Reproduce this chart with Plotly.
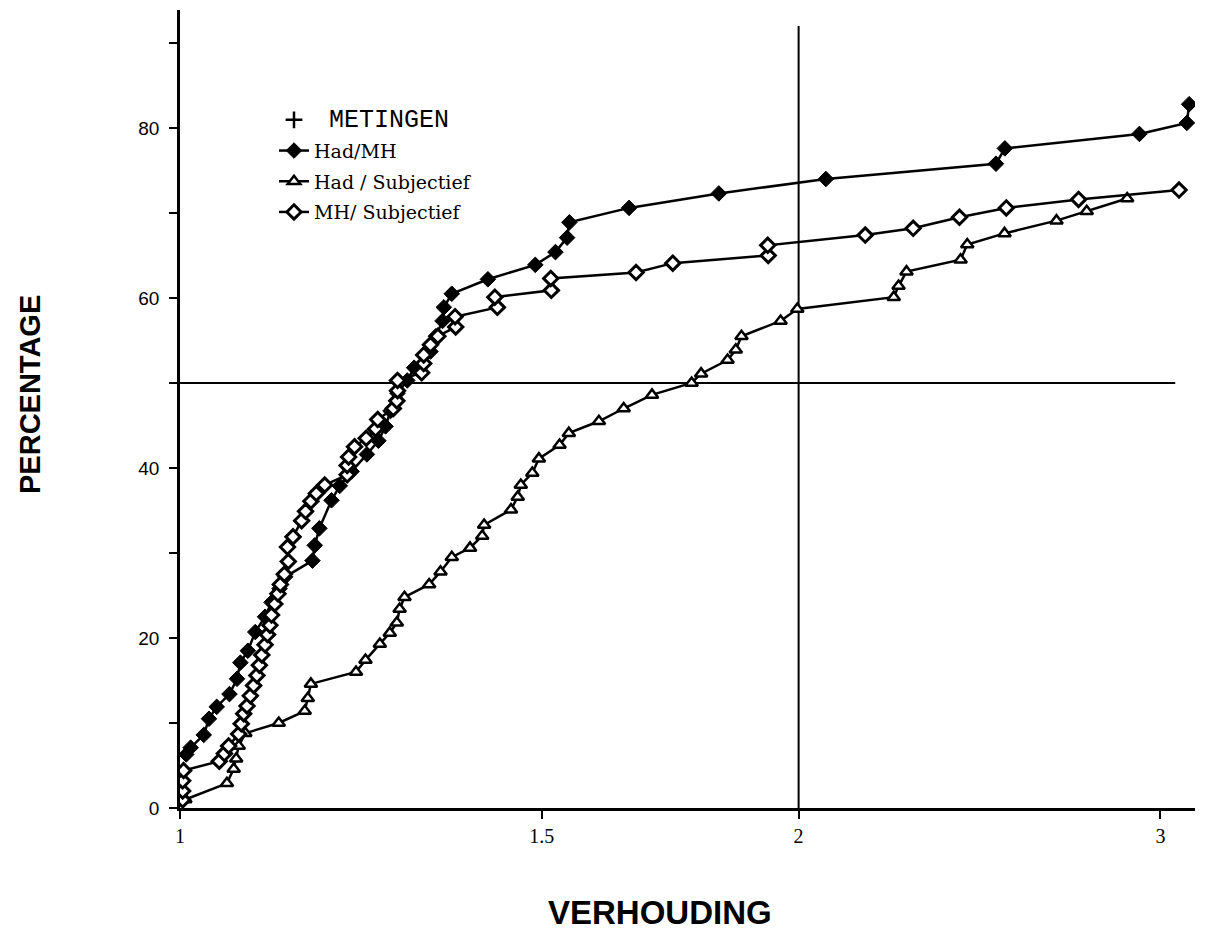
import plotly.graph_objects as go

# ---- data ----
had_mh_x = [1.007, 1.012, 1.027, 1.033, 1.042, 1.057, 1.066, 1.070, 1.079, 1.088, 1.100,
            1.108, 1.118, 1.125, 1.160, 1.163, 1.169, 1.185, 1.196, 1.212, 1.233, 1.249,
            1.259, 1.266, 1.276, 1.290, 1.300, 1.324, 1.332, 1.342, 1.344, 1.356, 1.412,
            1.489, 1.523, 1.543, 1.547, 1.654, 1.829, 2.062, 2.495, 2.520, 2.930, 3.090, 3.098]
had_mh_y = [6.3, 7.1, 8.6, 10.5, 11.9, 13.4, 15.2, 17.1, 18.5, 20.7, 22.5,
            24.2, 25.8, 27.2, 29.1, 30.9, 32.9, 36.2, 37.9, 39.6, 41.6, 43.2,
            44.9, 46.7, 48.8, 50.3, 51.8, 53.7, 55.5, 57.3, 58.9, 60.5, 62.2,
            63.9, 65.4, 67.1, 68.9, 70.6, 72.3, 74.0, 75.8, 77.6, 79.3, 80.6, 82.8]

had_subj_x = [1.006, 1.054, 1.062, 1.065, 1.068, 1.076, 1.117, 1.150, 1.154, 1.158, 1.218,
              1.231, 1.251, 1.265, 1.275, 1.279, 1.286, 1.322, 1.339, 1.356, 1.384, 1.403,
              1.406, 1.449, 1.460, 1.465, 1.484, 1.495, 1.530, 1.546, 1.599, 1.644, 1.697,
              1.774, 1.793, 1.847, 1.864, 1.876, 1.960, 1.997, 2.225, 2.237, 2.257, 2.398,
              2.416, 2.519, 2.670, 2.762, 2.890]
had_subj_y = [1.0, 2.9, 4.6, 5.8, 7.3, 8.8, 10.0, 11.4, 12.9, 14.6, 16.0,
              17.4, 19.3, 20.6, 21.8, 23.4, 24.8, 26.3, 27.8, 29.5, 30.6, 32.0,
              33.3, 35.1, 36.6, 38.0, 39.4, 41.1, 42.7, 44.1, 45.5, 47.0, 48.6,
              50.0, 51.1, 52.7, 53.9, 55.5, 57.3, 58.7, 60.1, 61.4, 63.1, 64.5,
              66.3, 67.6, 69.1, 70.2, 71.7]

mh_subj_x = [1.003, 1.003, 1.003, 1.004, 1.045, 1.051, 1.056, 1.068, 1.071, 1.074, 1.078,
             1.082, 1.086, 1.090, 1.093, 1.096, 1.100, 1.103, 1.106, 1.108, 1.112, 1.116,
             1.119, 1.124, 1.129, 1.128, 1.135, 1.146, 1.151, 1.158, 1.165, 1.176, 1.206,
             1.206, 1.208, 1.216, 1.232, 1.245, 1.248, 1.270, 1.275, 1.276, 1.276, 1.311,
             1.314, 1.314, 1.324, 1.335, 1.362, 1.361, 1.427, 1.423, 1.516, 1.515, 1.667,
             1.737, 1.933, 1.932, 2.155, 2.274, 2.395, 2.524, 2.737, 3.063]
mh_subj_y = [0.95, 2.0, 3.2, 4.4, 5.5, 6.4, 7.3, 8.7, 9.9, 11.1, 12.0,
             13.2, 14.4, 15.6, 16.8, 18.0, 19.2, 20.4, 21.5, 22.7, 24.0, 25.2,
             26.3, 27.5, 29.0, 30.7, 31.9, 33.8, 34.9, 36.1, 37.0, 38.0, 39.2,
             40.3, 41.3, 42.5, 43.5, 44.6, 45.7, 47.0, 47.9, 49.1, 50.3, 51.2,
             52.3, 53.3, 54.5, 55.5, 56.6, 57.8, 58.9, 60.1, 60.9, 62.3, 63.0,
             64.1, 65.0, 66.2, 67.4, 68.2, 69.5, 70.6, 71.6, 72.7]

ref_pct = 50          # horizontal reference line (percentage)
ref_pct_x = [1.0, 3.05]
ref_ratio = 2         # vertical reference line (ratio)
ref_ratio_y = [0, 92]

x_tickvals = [1, 1.5, 2, 3]
x_ticktext = ["1", "1.5", "2", "3"]
y_tickvals = [0, 10, 20, 30, 40, 50, 60, 70, 80, 90]
y_ticktext = ["0", "", "20", "", "40", "", "60", "", "80", ""]

# ---- figure ----
fig = go.Figure()
black = "black"
LW = 2.5

fig.add_trace(go.Scatter(x=ref_pct_x, y=[ref_pct, ref_pct], mode="lines",
                         line=dict(color=black, width=2), showlegend=False, hoverinfo="skip"))
fig.add_trace(go.Scatter(x=[ref_ratio, ref_ratio], y=ref_ratio_y, mode="lines",
                         line=dict(color=black, width=2), showlegend=False, hoverinfo="skip"))

fig.add_trace(go.Scatter(x=[None], y=[None], mode="markers", legendgroup="a",
                         name='<span style="font-family:\'Liberation Mono\';font-size:25px">&nbsp;METINGEN</span>',
                         marker=dict(symbol="cross-thin", size=12, line=dict(color=black, width=2.5))))
fig.add_trace(go.Scatter(x=had_mh_x, y=had_mh_y, mode="lines+markers", name="Had/MH", legendgroup="b",
                         line=dict(color=black, width=LW),
                         marker=dict(symbol="diamond", size=12, color=black, line=dict(color=black, width=1))))
fig.add_trace(go.Scatter(x=had_subj_x, y=had_subj_y, mode="lines+markers", name="Had / Subjectief",
                         legendgroup="c", line=dict(color=black, width=LW),
                         marker=dict(symbol="triangle-up", size=11, color="white", line=dict(color=black, width=2.5))))
fig.add_trace(go.Scatter(x=mh_subj_x, y=mh_subj_y, mode="lines+markers", name="MH/ Subjectief",
                         legendgroup="d", line=dict(color=black, width=LW),
                         marker=dict(symbol="diamond", size=11, color="white", line=dict(color=black, width=3))))

# the page body adds an 8px offset; figure coords = screen coords - 8
OFF = 8
W, H = 1207 - OFF, 931 - OFF
L, R, T, B = 180 - OFF, 12, 10 - OFF, H - (808 - OFF)
plot_w = W - L - R
plot_h = H - T - B


def px(sx):
    return (sx - OFF - L) / plot_w


def py(sy):
    return (H - B - (sy - OFF)) / plot_h


fig.update_layout(
    width=W, height=H,
    margin=dict(l=L, r=R, t=T, b=B),
    paper_bgcolor="white", plot_bgcolor="white",
    font=dict(family="DejaVu Serif", color=black),
    showlegend=True,
    legend=dict(x=px(274), y=py(101), xanchor="left", yanchor="top",
                bgcolor="rgba(0,0,0,0)", borderwidth=0, tracegroupgap=3,
                font=dict(family="DejaVu Serif", size=19, color=black)),
    xaxis=dict(type="log", range=[0, plot_w / 2055.0], showline=True, linecolor=black, linewidth=2.5,
               showgrid=False, zeroline=False, ticks="outside", ticklen=8, tickwidth=2, tickcolor=black,
               tickvals=x_tickvals, ticktext=x_ticktext,
               tickfont=dict(family="Liberation Serif", size=20, color=black)),
    yaxis=dict(range=[0, plot_h / 8.5], showline=True, linecolor=black, linewidth=2.5,
               showgrid=False, zeroline=False, ticks="outside", ticklen=8, tickwidth=2, tickcolor=black,
               tickvals=y_tickvals, ticktext=y_ticktext, ticklabelstandoff=6,
               tickfont=dict(family="Liberation Sans", size=19, color=black)),
    annotations=[
        dict(text="<b>PERCENTAGE</b>", xref="paper", yref="paper",
             x=px(30), y=py(395), xanchor="center", yanchor="middle", showarrow=False, textangle=-90,
             font=dict(family="Liberation Sans", size=29, color=black)),
        dict(text="<b>VERHOUDING</b>", xref="paper", yref="paper",
             x=px(660), y=py(912), xanchor="center", yanchor="middle", showarrow=False,
             font=dict(family="Liberation Sans", size=33, color=black)),
    ],
)

fig.write_html("out.html")
